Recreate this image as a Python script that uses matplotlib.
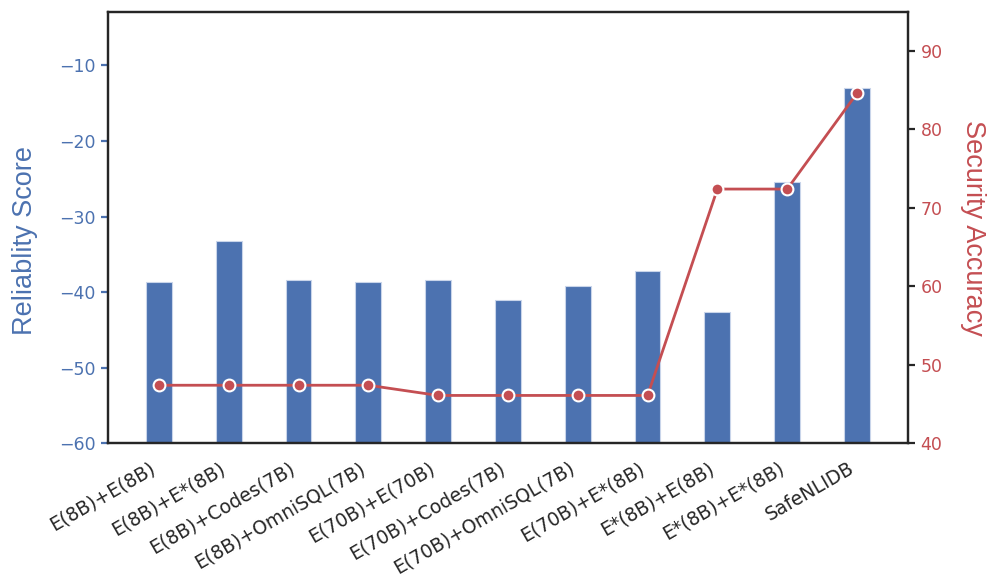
import matplotlib
matplotlib.use("Agg")
import matplotlib.pyplot as plt
import numpy as np

categories = ["E(8B)+E(8B)", "E(8B)+E*(8B)", "E(8B)+Codes(7B)", "E(8B)+OmniSQL(7B)",
              "E(70B)+E(70B)", "E(70B)+Codes(7B)", "E(70B)+OmniSQL(7B)", "E(70B)+E*(8B)",
              "E*(8B)+E(8B)", "E*(8B)+E*(8B)", "SafeNLIDB"]
reliability = [-38.6, -33.3, -38.4, -38.7, -38.4, -41.0, -39.2, -37.2, -42.6, -25.4, -13.0]
security = [47.4, 47.4, 47.4, 47.4, 46.1, 46.1, 46.1, 46.1, 72.4, 72.4, 84.6]

blue = "#4C72B0"
red = "#C44E52"
dark = "#262626"

fig = plt.figure(figsize=(9.96, 5.77), dpi=100)
ax = fig.add_axes([0.1084, 0.2317, 0.8032, 0.748])
x = np.arange(len(categories))
ax.bar(x, [r - (-60) for r in reliability], bottom=-60, width=0.37, color=blue,
       edgecolor="#c9d5ea", linewidth=0.8, zorder=2)
ax.set_ylim(-60, -2.9)
ax.set_xlim(-0.73, len(categories) - 1 + 0.73)
ax.set_yticks([-60, -50, -40, -30, -20, -10])
ax.set_yticklabels(["\u221260", "\u221250", "\u221240", "\u221230", "\u221220", "\u221210"])
ax.tick_params(axis="y", colors=blue, labelsize=12.5, length=5, width=1.6, pad=4)
ax.set_xticks(x)
ax.set_xticklabels(categories, rotation=30, ha="right", fontsize=13.5, color=dark)
ax.tick_params(axis="x", length=0, pad=11)
ax.set_ylabel("Reliablity Score", color=blue, fontsize=19.5, family="Liberation Sans",
              va="center")
ax.yaxis.set_label_coords(-0.104, 0.47)

ax2 = ax.twinx()
ax2.plot(x, security, color=red, linewidth=2.0, marker="o", markersize=8.5,
         markerfacecolor=red, markeredgecolor="white", markeredgewidth=1.5, zorder=3)
ax2.set_ylim(40, 95)
ax2.set_yticks([40, 50, 60, 70, 80, 90])
ax2.tick_params(axis="y", colors=dark, labelcolor=red, labelsize=12.5, length=5, width=1.6, pad=4)
ax2.set_ylabel("Security Accuracy", color=red, fontsize=19.5, family="Liberation Sans",
               rotation=270, va="center")
ax2.yaxis.set_label_coords(1.081, 0.5)

for a in (ax, ax2):
    for s in a.spines.values():
        s.set_color(dark)
        s.set_linewidth(1.6)

fig.savefig("out.png", dpi=100)
